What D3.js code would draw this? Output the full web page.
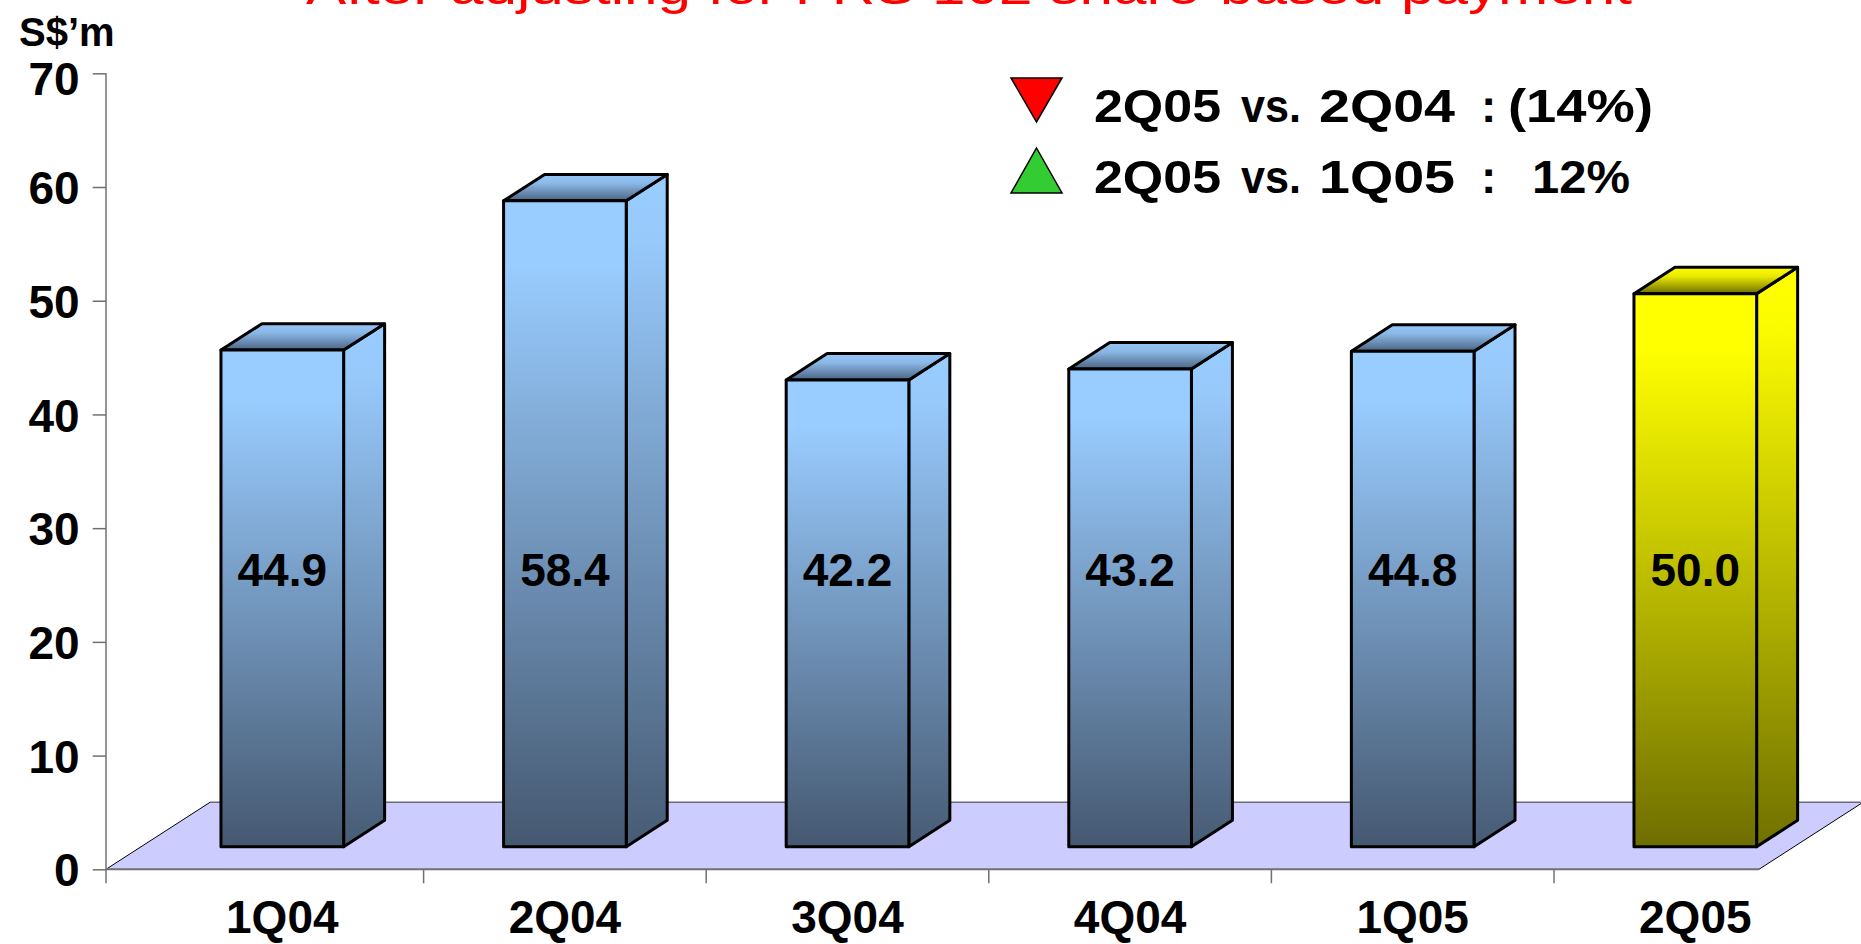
<!DOCTYPE html>
<html>
<head>
<meta charset="utf-8">
<script src="https://cdn.jsdelivr.net/npm/d3@7"></script>
<style>
  html, body { margin: 0; padding: 0; background: #ffffff; }
  svg { display: block; }
  text { font-family: "Comic Sans MS", "Liberation Sans", Arial, sans-serif; font-weight: bold; }
</style>
</head>
<body>
<div id="chart"></div>
<script>
// Quarterly figures (S$ million)
const categories = ["1Q04", "2Q04", "3Q04", "4Q04", "1Q05", "2Q05"];
const values = [44.9, 58.4, 42.2, 43.2, 44.8, 50.0];
const highlighted = ["2Q05"];
const yTicks = [0, 10, 20, 30, 40, 50, 60, 70];
const yDomain = [0, 70];
const titleText = "After adjusting for FRS 102 share-based payment";
const unitText = "S$\u2019m";
const legendMarks = ["down", "up"];
const legendWords = [
  ["2Q05", "vs.", "2Q04", ":", "(14%)"],
  ["2Q05", "vs.", "1Q05", ":", "12%"]
];

// ---- layout ----
const W = 1861, H = 944;
const axisX = 106;
const floorFront = [106, 1759], floorY = 869.3;
const floorDepth = { dx: 104, dy: -67 };
const barDepth = { dx: 41, dy: -26.4 };
const barBaseY = 846.7;
const fontSize = 46;

const svg = d3.select("#chart").append("svg")
  .attr("width", W).attr("height", H);

const yAxis = d3.scaleLinear().domain(yDomain).range([floorY, 73.3]);
const yBar = d3.scaleLinear().domain(yDomain).range([barBaseY, barBaseY - 70 * 11.06]);
const x = d3.scaleBand().domain(categories).range([141, 1836.6])
  .paddingInner(0.566).paddingOuter(0.283);
const bw = x.bandwidth();

// ---- gradients ----
const defs = svg.append("defs");
function vGrad(id, stops) {
  const g = defs.append("linearGradient").attr("id", id)
    .attr("x1", 0).attr("y1", 0).attr("x2", 0).attr("y2", 1);
  stops.forEach(([o, c]) => g.append("stop").attr("offset", o).attr("stop-color", c));
}
vGrad("blueFront", [[0, "#99ccff"], [0.1, "#99ccff"], [1, "#455870"]]);
vGrad("blueSide", [[0, "#99ccff"], [0.1, "#97c9fb"], [1, "#475b74"]]);
vGrad("blueTop", [[0, "#96c8fa"], [0.35, "#8ab7e6"], [1, "#4c6482"]]);
vGrad("yellowFront", [[0, "#ffff00"], [0.1, "#ffff00"], [1, "#6e6e00"]]);
vGrad("yellowSide", [[0, "#ffff00"], [0.1, "#fcfc00"], [1, "#707000"]]);
vGrad("yellowTop", [[0, "#ffff00"], [0.35, "#e8e800"], [1, "#6e6e00"]]);

// ---- title (runs off the top edge) ----
svg.append("text")
  .attr("x", 969).attr("y", 4)
  .attr("text-anchor", "middle")
  .attr("fill", "#ff0000")
  .attr("font-size", 48)
  .style("font-weight", "normal")
  .attr("textLength", 1326).attr("lengthAdjust", "spacingAndGlyphs")
  .text(titleText);

// ---- unit label ----
svg.append("text")
  .attr("x", 19).attr("y", 46)
  .attr("font-size", 40)
  .attr("fill", "#000")
  .text(unitText);

// ---- floor ----
const floorPts = [
  [floorFront[0], floorY],
  [floorFront[1], floorY],
  [floorFront[1] + floorDepth.dx, floorY + floorDepth.dy],
  [floorFront[0] + floorDepth.dx, floorY + floorDepth.dy]
];
svg.append("polygon")
  .attr("points", floorPts.map(p => p.join(",")).join(" "))
  .attr("fill", "#ccccff").attr("stroke", "none");
svg.append("line")
  .attr("x1", floorPts[3][0]).attr("y1", floorPts[3][1])
  .attr("x2", floorPts[2][0]).attr("y2", floorPts[2][1])
  .attr("stroke", "#6a6a7a").attr("stroke-width", 1.5);
[[0, 3], [1, 2]].forEach(([a, b]) => {
  svg.append("line")
    .attr("x1", floorPts[a][0]).attr("y1", floorPts[a][1])
    .attr("x2", floorPts[b][0]).attr("y2", floorPts[b][1])
    .attr("stroke", "#000").attr("stroke-width", 1);
});

// ---- y axis ----
const gy = svg.append("g").attr("transform", `translate(${axisX},0)`)
  .call(d3.axisLeft(yAxis).tickValues(yTicks).tickSize(13.3).tickSizeOuter(0).tickPadding(13));
gy.select(".domain").remove();
gy.selectAll(".tick line").attr("stroke", "#707070").attr("stroke-width", 1.5);
gy.selectAll(".tick text")
  .attr("font-size", fontSize).attr("fill", "#000")
  .attr("font-family", null)
  .attr("dy", d => d === yDomain[1] ? "0.47em" : "0.36em");
svg.append("line")
  .attr("x1", axisX).attr("x2", axisX)
  .attr("y1", yAxis(70)).attr("y2", floorY + 14)
  .attr("stroke", "#707070").attr("stroke-width", 1.5);

// ---- x axis line and category ticks ----
svg.append("line")
  .attr("x1", floorFront[0]).attr("x2", floorFront[1])
  .attr("y1", floorY).attr("y2", floorY)
  .attr("stroke", "#707070").attr("stroke-width", 2);
const boundaries = categories.slice(1).map(c => x(c) - x.step() * x.paddingInner() / 2);
svg.append("g").selectAll("line").data(boundaries).join("line")
  .attr("x1", d => d).attr("x2", d => d)
  .attr("y1", floorY).attr("y2", floorY + 14)
  .attr("stroke", "#707070").attr("stroke-width", 1.5);

svg.append("g").selectAll("text").data(categories).join("text")
  .attr("x", d => x(d) + bw / 2)
  .attr("y", 933)
  .attr("text-anchor", "middle")
  .attr("font-size", fontSize)
  .attr("fill", "#000")
  .text(d => d);

// ---- 3D bars ----
const bars = categories.map((c, i) => ({ cat: c, value: values[i], hi: highlighted.includes(c) }));
const gBars = svg.append("g")
  .attr("stroke", "#000").attr("stroke-width", 3).attr("stroke-linejoin", "round");

bars.forEach(b => {
  const x0 = x(b.cat), x1 = x0 + bw;
  const yT = yBar(b.value), yB = yBar(0);
  const { dx, dy } = barDepth;
  const pal = b.hi ? "yellow" : "blue";
  const g = gBars.append("g");
  g.append("polygon")
    .attr("points", [[x1, yT], [x1 + dx, yT + dy], [x1 + dx, yB + dy], [x1, yB]].map(p => p.join(",")).join(" "))
    .attr("fill", `url(#${pal}Side)`);
  g.append("polygon")
    .attr("points", [[x0, yT], [x0 + dx, yT + dy], [x1 + dx, yT + dy], [x1, yT]].map(p => p.join(",")).join(" "))
    .attr("fill", `url(#${pal}Top)`);
  g.append("rect")
    .attr("x", x0).attr("y", yT)
    .attr("width", bw).attr("height", yB - yT)
    .attr("fill", `url(#${pal}Front)`);
});

// ---- value labels ----
svg.append("g").selectAll("text").data(bars).join("text")
  .attr("x", d => x(d.cat) + bw / 2)
  .attr("y", 586)
  .attr("text-anchor", "middle")
  .attr("font-size", fontSize)
  .attr("fill", "#000")
  .text(d => d3.format(".1f")(d.value));

// ---- legend: change indicators ----
const legendRows = [{ y: 122, tri: [78, 122] }, { y: 193, tri: [148, 193] }];
const wordX = [1094, 1241, 1319, 1481];
const wordW = [127, 60, 136, null];
const lastWordX = [1508, 1532];
const lastWordW = [145, 98];
const markX = [1011, 1062];

legendMarks.forEach((m, i) => {
  const [t0, t1] = legendRows[i].tri;
  const cx = (markX[0] + markX[1]) / 2;
  const pts = m === "down"
    ? [[markX[0], t0], [markX[1], t0], [cx, t1]]
    : [[cx, t0], [markX[1], t1], [markX[0], t1]];
  svg.append("polygon")
    .attr("points", pts.map(p => p.join(",")).join(" "))
    .attr("fill", m === "down" ? "#ff0000" : "#33cc33")
    .attr("stroke", "#000").attr("stroke-width", 1.5);

  legendWords[i].forEach((w, j) => {
    const last = j === legendWords[i].length - 1;
    const t = svg.append("text")
      .attr("x", last ? lastWordX[i] : wordX[j])
      .attr("y", legendRows[i].y)
      .attr("font-size", fontSize)
      .attr("fill", "#000")
      .text(w);
    const len = last ? lastWordW[i] : wordW[j];
    if (len) t.attr("textLength", len).attr("lengthAdjust", "spacingAndGlyphs");
  });
});
</script>
</body>
</html>
